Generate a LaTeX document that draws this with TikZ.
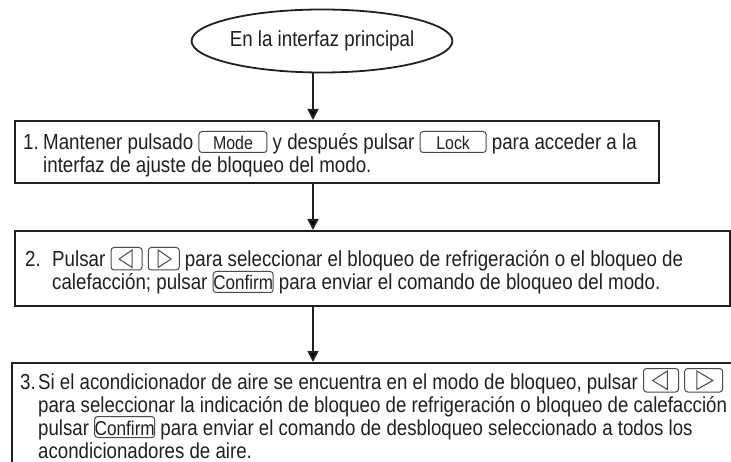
\documentclass[tikz,border=0pt]{standalone}
\usepackage{fontspec}
\setmainfont{Liberation Sans}[FakeStretch=0.86]
\usetikzlibrary{arrows.meta,shapes.geometric}
\definecolor{inkc}{HTML}{231F20}
\definecolor{btnc}{HTML}{4A4A4A}
\tikzset{
  stepbox/.style={draw=inkc, line width=2pt, rectangle, inner sep=0pt, anchor=north west},
  startell/.style={ellipse, draw=inkc, line width=1.8pt, minimum width=255pt, minimum height=63pt, inner sep=0pt, text=inkc, font=\fontsize{21.8pt}{23pt}\selectfont},
  flow/.style={draw=inkc, line width=1.8pt, -{Triangle[length=11pt,width=11pt]}},
  txt/.style={inner sep=0pt, anchor=base west, text=inkc, font=\fontsize{21.8pt}{23pt}\selectfont},
  btnline/.style={draw=btnc, line width=1pt},
}
\newcommand\keybtn[3]{\smash{\tikz[baseline=0pt]{\draw[btnline, rounded corners=3pt] (0pt,-2.5pt) rectangle (#1,18.5pt); \node[inner sep=0pt, anchor=base, font=\fontsize{#3}{20pt}\selectfont] (kt) at (#1/2,0pt) {#2};}}}
\newcommand\triL[2]{\smash{\tikz[baseline=0pt]{\draw[btnline, rounded corners=3pt] (0pt,-3pt) rectangle (#1,#2); \draw[btnline, line join=miter] (#1*0.68,-0.5pt) -- (#1*0.68,#2-2.5pt) -- (#1*0.26,#2*0.5-1.75pt) -- cycle;}}}
\newcommand\triR[2]{\smash{\tikz[baseline=0pt]{\draw[btnline, rounded corners=3pt] (0pt,-3pt) rectangle (#1,#2); \draw[btnline, line join=miter] (#1*0.32,-0.5pt) -- (#1*0.32,#2-2.5pt) -- (#1*0.74,#2*0.5-1.75pt) -- cycle;}}}
\begin{document}
\begin{tikzpicture}[x=1pt,y=-1pt]
\useasboundingbox (0,0) rectangle (731,462);
\clip (0,0) rectangle (731,462);
\node[startell] (ell) at (322,41) {En la interfaz principal};
\node[stepbox, minimum width=644pt, minimum height=62pt] (b1) at (14,120) {};
\node[stepbox, minimum width=715pt, minimum height=75pt] (b2) at (14,230) {};
\node[stepbox, minimum width=760pt, minimum height=130pt] (b3) at (11,362) {};
\coordinate (ax) at (313,0);
\node[txt] (t1) at (23,150) {\makebox[20pt][l]{1.}\parbox[t]{700pt}{\raggedright Mantener pulsado \keybtn{68pt}{Mode}{18.5pt} y después pulsar \keybtn{66pt}{Lock}{18.5pt} para acceder a la\\ interfaz de ajuste de bloqueo del modo.}};
\node[txt] (t2) at (25,267) {\makebox[27pt][l]{2.}\parbox[t]{700pt}{\raggedright Pulsar \triL{31pt}{19.5pt}\ \triR{31pt}{19.5pt}\ para seleccionar el bloqueo de refrigeración o el bloqueo de\\ calefacción; pulsar \keybtn{60pt}{Confirm}{19.8pt} para enviar el comando de bloqueo del modo.}};
\node[txt, font=\fontsize{21.7pt}{23pt}\selectfont] (t3) at (20,389) {\makebox[18pt][l]{3.}\parbox[t]{760pt}{\raggedright Si el acondicionador de aire se encuentra en el modo de bloqueo, pulsar \triL{35pt}{20.5pt}\ \triR{38pt}{20.5pt}\\ para seleccionar la indicación de bloqueo de refrigeración o bloqueo de calefacción\\ pulsar \keybtn{60pt}{Confirm}{20pt} para enviar el comando de desbloqueo seleccionado a todos los\\ acondicionadores de aire.}};
\draw[flow] (ell.south -| ax) -- (b1.north -| ax);
\draw[flow] (b1.south -| ax) -- (b2.north -| ax);
\draw[flow] (b2.south -| ax) -- (b3.north -| ax);
\end{tikzpicture}
\end{document}
